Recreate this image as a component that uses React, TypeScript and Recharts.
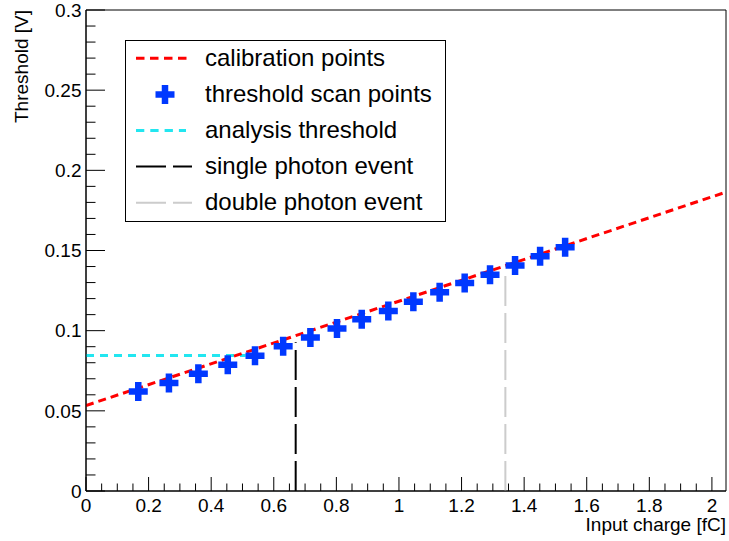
import {
  ComposedChart,
  Line,
  Scatter,
  XAxis,
  YAxis,
  Legend,
  ReferenceArea,
} from 'recharts';

// Threshold scan points (input charge in fC vs. threshold in V)
const scanCharge = [
  0.167, 0.265, 0.359, 0.453, 0.54, 0.63, 0.717, 0.802, 0.881, 0.966, 1.046, 1.13,
  1.21, 1.291, 1.371, 1.451, 1.531,
];
const scanThreshold = [
  0.0621, 0.0673, 0.0731, 0.0787, 0.0843, 0.0903, 0.0958, 0.1013, 0.1071, 0.1122,
  0.1181, 0.124, 0.1297, 0.1349, 0.1407, 0.1464, 0.152,
];

// Calibration line end points
const calibCharge = [0, 2.045];
const calibThreshold = [0.0533, 0.1864];

// Analysis threshold (horizontal)
const analysisCharge = [0, 0.51];
const analysisThreshold = [0.0845, 0.0845];

// Single / double photon event markers (vertical)
const singleCharge = [0.67, 0.67];
const singleThreshold = [0, 0.0927];
const doubleCharge = [1.34, 1.34];
const doubleThreshold = [0, 0.136];

const xMajorTicks = [0, 0.2, 0.4, 0.6, 0.8, 1, 1.2, 1.4, 1.6, 1.8, 2];
const yMajorTicks = [0, 0.05, 0.1, 0.15, 0.2, 0.25, 0.3];

const legendLabels = [
  'calibration points',
  'threshold scan points',
  'analysis threshold',
  'single photon event',
  'double photon event',
];

const FONT = '"Liberation Sans", Arial, Helvetica, sans-serif';
const RED = '#ff0000';
const BLUE = '#0038ff';
const CYAN = '#22e6f0';
const GREY = '#cccccc';

const X_MAX = 2.045;

function pairs(xs: number[], ys: number[]) {
  return xs.map((x, i) => ({ x, y: ys[i] }));
}

/** Splits every major step into `n` parts, so the minor ticks fall in between. */
function withMinor(major: number[], n: number): number[] {
  const out: number[] = [];
  for (let i = 0; i < major.length - 1; i++) {
    const step = (major[i + 1] - major[i]) / n;
    for (let k = 0; k < n; k++) out.push(+(major[i] + k * step).toFixed(4));
  }
  out.push(major[major.length - 1]);
  return out;
}

const scanData = pairs(scanCharge, scanThreshold);
const calibData = pairs(calibCharge, calibThreshold);
const analysisData = pairs(analysisCharge, analysisThreshold);
const singleData = pairs(singleCharge, singleThreshold);
const doubleData = pairs(doubleCharge, doubleThreshold);

const xTicks = withMinor(xMajorTicks, 4);
const yTicks = withMinor(yMajorTicks, 5);

function isMajor(v: number, list: number[]): boolean {
  return list.some((m) => Math.abs(m - v) < 1e-6);
}

function fmt(v: number): string {
  return String(Number(v.toFixed(2)));
}

function XTick(props: any) {
  const { x, y, payload } = props;
  const major = isMajor(payload.value, xMajorTicks);
  return (
    <g>
      <line x1={x} x2={x} y1={y} y2={y - (major ? 14 : 7.5)} stroke="#000" strokeWidth={1} />
      {major && (
        <text x={x} y={y + 20.5} textAnchor="middle" fontSize={19} fontFamily={FONT} fill="#000">
          {fmt(payload.value)}
        </text>
      )}
    </g>
  );
}

function YTick(props: any) {
  const { x, y, payload } = props;
  const major = isMajor(payload.value, yMajorTicks);
  return (
    <g>
      <line x1={x} x2={x + (major ? 19 : 9.5)} y1={y} y2={y} stroke="#000" strokeWidth={1} />
      {major && (
        <text x={x - 4.5} y={y + 6.8} textAnchor="end" fontSize={19} fontFamily={FONT} fill="#000">
          {fmt(payload.value)}
        </text>
      )}
    </g>
  );
}

function PlusMark({ cx, cy, size = 19, arm = 6.5 }: { cx: number; cy: number; size?: number; arm?: number }) {
  const h = size / 2;
  const a = arm / 2;
  const d = `M${cx - a},${cy - h}H${cx + a}V${cy - a}H${cx + h}V${cy + a}H${cx + a}V${cy + h}H${cx - a}V${cy + a}H${cx - h}V${cy - a}H${cx - a}Z`;
  return <path d={d} fill={BLUE} />;
}

function LegendBox() {
  const rowY = [18.3, 54.4, 90.5, 126.6, 162.7];
  const x1 = 11;
  return (
    <svg width={321} height={182} style={{ display: 'block' }}>
      <rect x={0.5} y={0.5} width={320} height={181} fill="#fff" stroke="#000" strokeWidth={1} />
      <line x1={x1} x2={61.5} y1={rowY[0]} y2={rowY[0]} stroke={RED} strokeWidth={3} strokeDasharray="8.5 5.5" />
      <PlusMark cx={40} cy={rowY[1]} />
      <line x1={x1} x2={61} y1={rowY[2]} y2={rowY[2]} stroke={CYAN} strokeWidth={3} strokeDasharray="8.3 6" />
      <line x1={x1} x2={67} y1={rowY[3]} y2={rowY[3]} stroke="#000" strokeWidth={2} strokeDasharray="30 7" />
      <line x1={x1} x2={67} y1={rowY[4]} y2={rowY[4]} stroke={GREY} strokeWidth={2} strokeDasharray="30 7" />
      {legendLabels.map((label, i) => (
        <text key={label} x={80} y={rowY[i] + 7.5} fontSize={24} fontFamily={FONT} fill="#000">
          {label}
        </text>
      ))}
    </svg>
  );
}

export default function App() {
  return (
    <div style={{ position: 'absolute', left: 0, top: 0, width: 729, height: 541, background: '#fff' }}>
      <ComposedChart width={729} height={541} margin={{ top: 10, right: 3, bottom: 0, left: 0 }}>
        <XAxis
          type="number"
          dataKey="x"
          domain={[0, X_MAX]}
          ticks={xTicks}
          interval={0}
          allowDataOverflow
          height={50}
          tickSize={0}
          tickMargin={0}
          tickLine={false}
          tick={<XTick />}
          axisLine={{ stroke: '#000' }}
          label={(p: any) => {
            const vb = p.viewBox;
            return (
              <text x={vb.x + vb.width} y={vb.y + 40} textAnchor="end" fontSize={19} fontFamily={FONT} fill="#000">
                Input charge [fC]
              </text>
            );
          }}
        />
        <YAxis
          type="number"
          dataKey="y"
          domain={[0, 0.3]}
          ticks={yTicks}
          interval={0}
          allowDataOverflow
          width={86}
          tickSize={0}
          tickMargin={0}
          tickLine={false}
          tick={<YTick />}
          axisLine={{ stroke: '#000' }}
          label={(p: any) => {
            const vb = p.viewBox;
            const tx = 28;
            const ty = vb.y;
            return (
              <text
                x={tx}
                y={ty}
                transform={`rotate(-90 ${tx} ${ty})`}
                textAnchor="end"
                fontSize={19}
                fontFamily={FONT}
                fill="#000"
              >
                Threshold [V]
              </text>
            );
          }}
        />
        <ReferenceArea x1={0} x2={X_MAX} y1={0} y2={0.3} fill="none" stroke="#000" strokeWidth={1} />
        <Line
          data={analysisData}
          dataKey="y"
          type="linear"
          stroke={CYAN}
          strokeWidth={3}
          strokeDasharray="8 6"
          dot={false}
          activeDot={false}
          isAnimationActive={false}
        />
        <Line
          data={singleData}
          dataKey="y"
          type="linear"
          stroke="#000"
          strokeWidth={2}
          strokeDasharray="30 7"
          dot={false}
          activeDot={false}
          isAnimationActive={false}
        />
        <Line
          data={doubleData}
          dataKey="y"
          type="linear"
          stroke={GREY}
          strokeWidth={2}
          strokeDasharray="30 7"
          dot={false}
          activeDot={false}
          isAnimationActive={false}
        />
        <Line
          data={calibData}
          dataKey="y"
          type="linear"
          stroke={RED}
          strokeWidth={3}
          strokeDasharray="8 5"
          dot={false}
          activeDot={false}
          isAnimationActive={false}
        />
        <Scatter
          data={scanData}
          dataKey="y"
          isAnimationActive={false}
          shape={(p: any) => <PlusMark cx={p.cx} cy={p.cy} />}
        />
        <Legend
          verticalAlign="middle"
          align="center"
          layout="horizontal"
          content={<LegendBox />}
          wrapperStyle={{ left: 125, top: 40, width: 321, height: 182 }}
        />
      </ComposedChart>
    </div>
  );
}
